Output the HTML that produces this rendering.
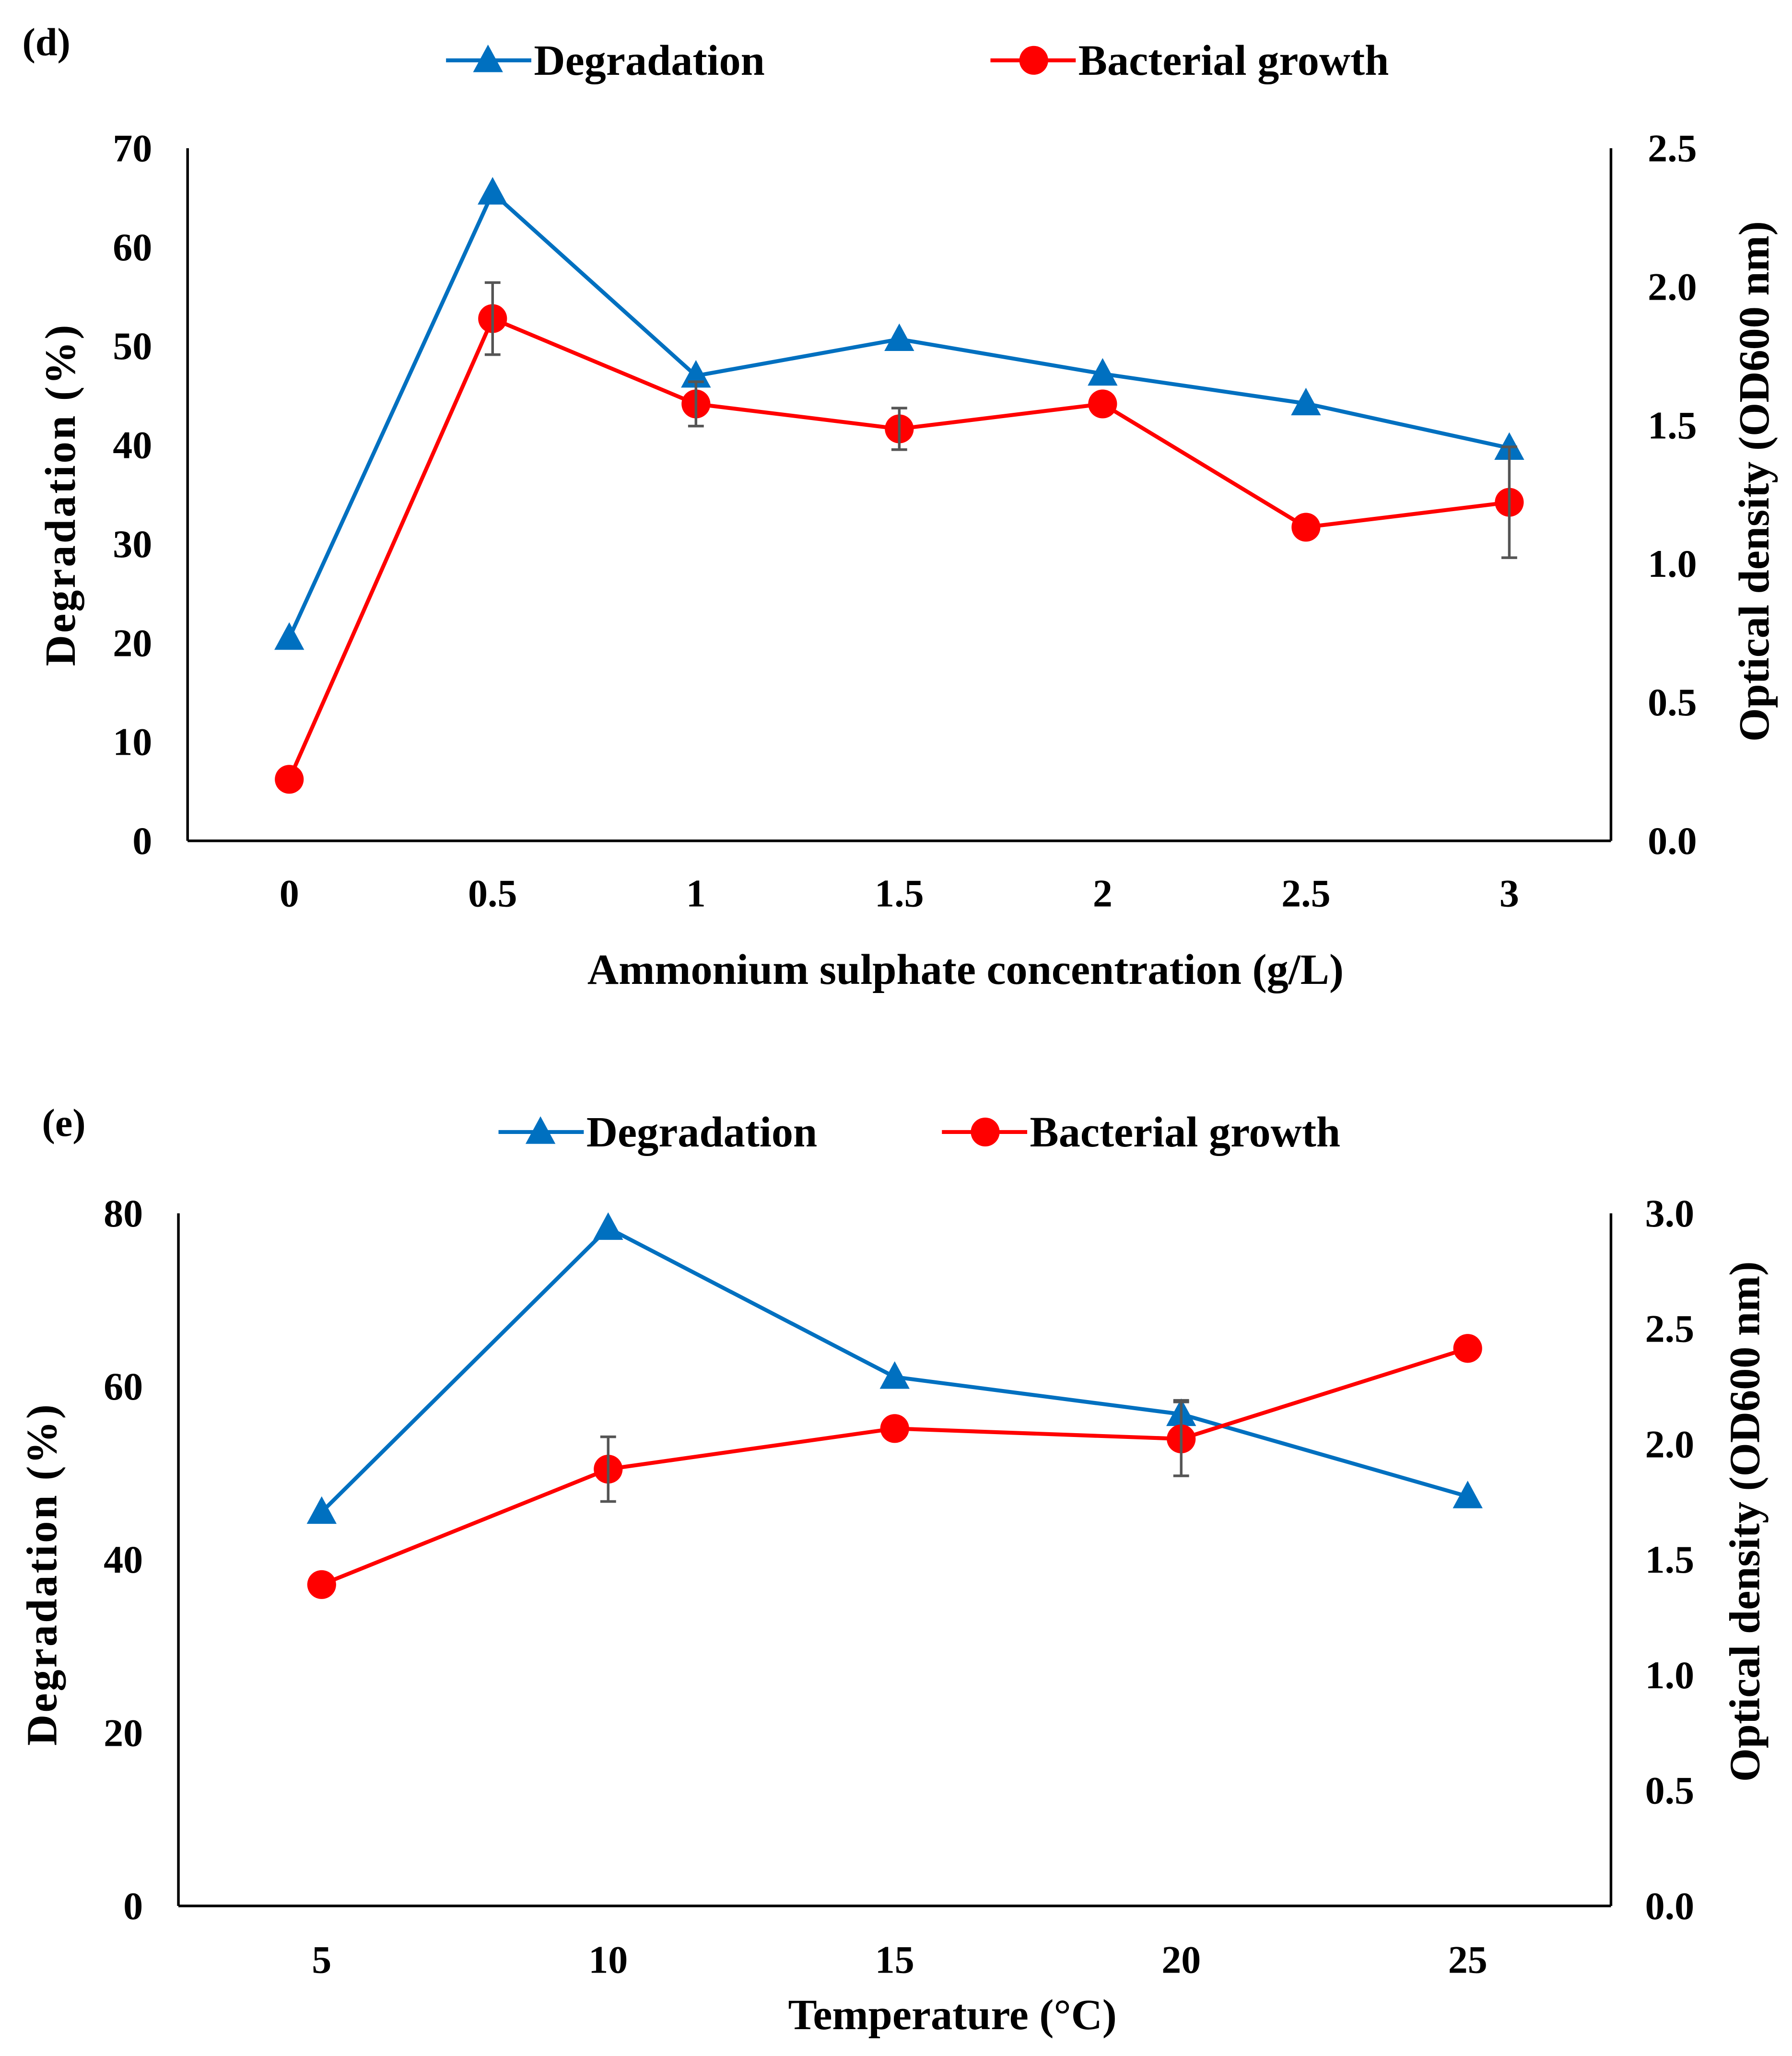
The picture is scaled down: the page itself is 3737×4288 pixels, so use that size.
<!DOCTYPE html>
<html><head><meta charset="utf-8"><style>
html,body{margin:0;padding:0;background:#fff;}
svg{display:block;}
text{font-family:"Liberation Serif",serif;font-weight:bold;fill:#000;}
</style></head><body>
<svg id="root" width="3737" height="4288" viewBox="0 0 1366 1567.4" preserveAspectRatio="none" xmlns="http://www.w3.org/2000/svg">
<g id="d"></g>
<g id="e"></g>
</svg>
<script>
const dCats=["0","0.5","1","1.5","2","2.5","3"];
const dDeg=[20.5,65.5,47,50.7,47.2,44.2,39.7];
const dOD=[0.222,1.885,1.577,1.487,1.577,1.132,1.222];
const dODErr=[0,0.13,0.08,0.075,0,0,0.2];
const dLeftTicks=[0,10,20,30,40,50,60,70];
const dRightTicks=["0.0","0.5","1.0","1.5","2.0","2.5"];

const eCats=["5","10","15","20","25"];
const eDeg=[45.5,78.3,61.1,56.8,47.3];
const eDegErr=[0,0,0,1.6,0];
const eOD=[1.392,1.892,2.068,2.023,2.415];
const eODErr=[0,0.14,0,0.16,0];
const eLeftTicks=[0,20,40,60,80];
const eRightTicks=["0.0","0.5","1.0","1.5","2.0","2.5","3.0"];

const NS="http://www.w3.org/2000/svg";
function mk(parent,tag,attrs,txt){const e=document.createElementNS(NS,tag);for(const k in attrs)e.setAttribute(k,attrs[k]);if(txt!==undefined)e.textContent=txt;parent.appendChild(e);return e;}
function tri(g,x,y,s){return mk(g,'polygon',{points:`${x},${y-s} ${x-s*0.95},${y+s*0.75} ${x+s*0.95},${y+s*0.75}`,fill:'#0070C0'});}

function draw(g,c){
  const {L,R,T,B,cats,deg,degErr,od,odErr,lt,rt,lmax,rmax}=c;
  const step=(R-L)/cats.length;
  const xs=i=>L+step*(i+0.5);
  const yl=v=>B-(v/lmax)*(B-T);
  const yr=v=>B-(v/rmax)*(B-T);
  let a;
  a=mk(g,'line',{x1:L,y1:T,x2:L,y2:B,stroke:'#000','stroke-width':2});
  
  a=mk(g,'line',{x1:R,y1:T,x2:R,y2:B,stroke:'#000','stroke-width':2});
  
  a=mk(g,'line',{x1:L,y1:B,x2:R,y2:B,stroke:'#000','stroke-width':2});
  
  lt.forEach(v=>{const t=mk(g,'text',{x:c.ltx,y:yl(v)+10,'text-anchor':'end','font-size':30},String(v));
    });
  rt.forEach(v=>{const t=mk(g,'text',{x:c.rtx,y:yr(parseFloat(v))+10,'font-size':30},v);
    });
  cats.forEach((v,i)=>{const t=mk(g,'text',{x:xs(i),y:c.xty,'text-anchor':'middle','font-size':30},v);
    });
  const eb=(x,yc,yt,yb)=>{const p=mk(g,'path',{d:`M${x},${yt}V${yb}M${x-6},${yt}H${x+6}M${x-6},${yb}H${x+6}`,stroke:'#555','stroke-width':2,fill:'none'});
    };
  let pts=deg.map((v,i)=>`${xs(i)},${yl(v)}`).join(' ');
  a=mk(g,'polyline',{points:pts,fill:'none',stroke:'#0070C0','stroke-width':3});
  
  pts=od.map((v,i)=>`${xs(i)},${yr(v)}`).join(' ');
  a=mk(g,'polyline',{points:pts,fill:'none',stroke:'#FF0000','stroke-width':3});
  
  deg.forEach((v,i)=>{const m=tri(g,xs(i),yl(v),12);
    
    if(degErr&&degErr[i])eb(xs(i),0,yl(v+degErr[i]),yl(v-degErr[i]));});
  od.forEach((v,i)=>{const m=mk(g,'circle',{cx:xs(i),cy:yr(v),r:11,fill:'#FF0000'});
    
    if(odErr[i])eb(xs(i),0,yr(v+odErr[i]),yr(v-odErr[i]));});
  a=mk(g,'text',{x:c.lab[0],y:c.lab[1],'font-size':30},c.label);
  
  a=mk(g,'text',{x:c.xt[0],y:c.xt[1],'text-anchor':'middle','font-size':33},c.xtitle);
  
  a=mk(g,'text',{x:0,y:0,'text-anchor':'middle','font-size':33,'letter-spacing':1.5,transform:`translate(${c.ytl[0]},${c.ytl[1]}) rotate(-90)`},'Degradation (%)');
  
  a=mk(g,'text',{x:0,y:0,'text-anchor':'middle','font-size':33,transform:`translate(${c.ytr[0]},${c.ytr[1]}) rotate(-90)`},'Optical density (OD600 nm)');
  
  const ly=c.leg[0];
  const lg=mk(g,'g',{});
  mk(lg,'line',{x1:c.leg[1],y1:ly,x2:c.leg[1]+65,y2:ly,stroke:'#0070C0','stroke-width':3});
  tri(lg,c.leg[1]+32,ly,12);
  a=mk(lg,'text',{x:c.leg[1]+67,y:ly+11,'font-size':33},'Degradation');
  
  mk(lg,'line',{x1:c.leg[2],y1:ly,x2:c.leg[2]+65,y2:ly,stroke:'#FF0000','stroke-width':3});
  mk(lg,'circle',{cx:c.leg[2]+33,cy:ly,r:11,fill:'#FF0000'});
  a=mk(lg,'text',{x:c.leg[2]+67,y:ly+11,'font-size':33},'Bacterial growth');
  
}
draw(document.getElementById('d'),{L:143,R:1228,T:113,B:641,cats:dCats,deg:dDeg,degErr:null,od:dOD,odErr:dODErr,
  lt:dLeftTicks,rt:dRightTicks,lmax:70,rmax:2.5,ltx:116,rtx:1256,xty:691,label:'(d)',lab:[17,42],
  xtitle:'Ammonium sulphate concentration (g/L)',xt:[736,750],ytl:[57,377],ytr:[1348,367],leg:[46,340,755]});
draw(document.getElementById('e'),{L:136,R:1228,T:925,B:1453,cats:eCats,deg:eDeg,degErr:eDegErr,od:eOD,odErr:eODErr,
  lt:eLeftTicks,rt:eRightTicks,lmax:80,rmax:3.0,ltx:109,rtx:1254,xty:1504,label:'(e)',lab:[32,866],
  xtitle:'Temperature (°C)',xt:[726,1547],ytl:[43,1200],ytr:[1341,1160],leg:[863,380,718]});
</script>
</body></html>
